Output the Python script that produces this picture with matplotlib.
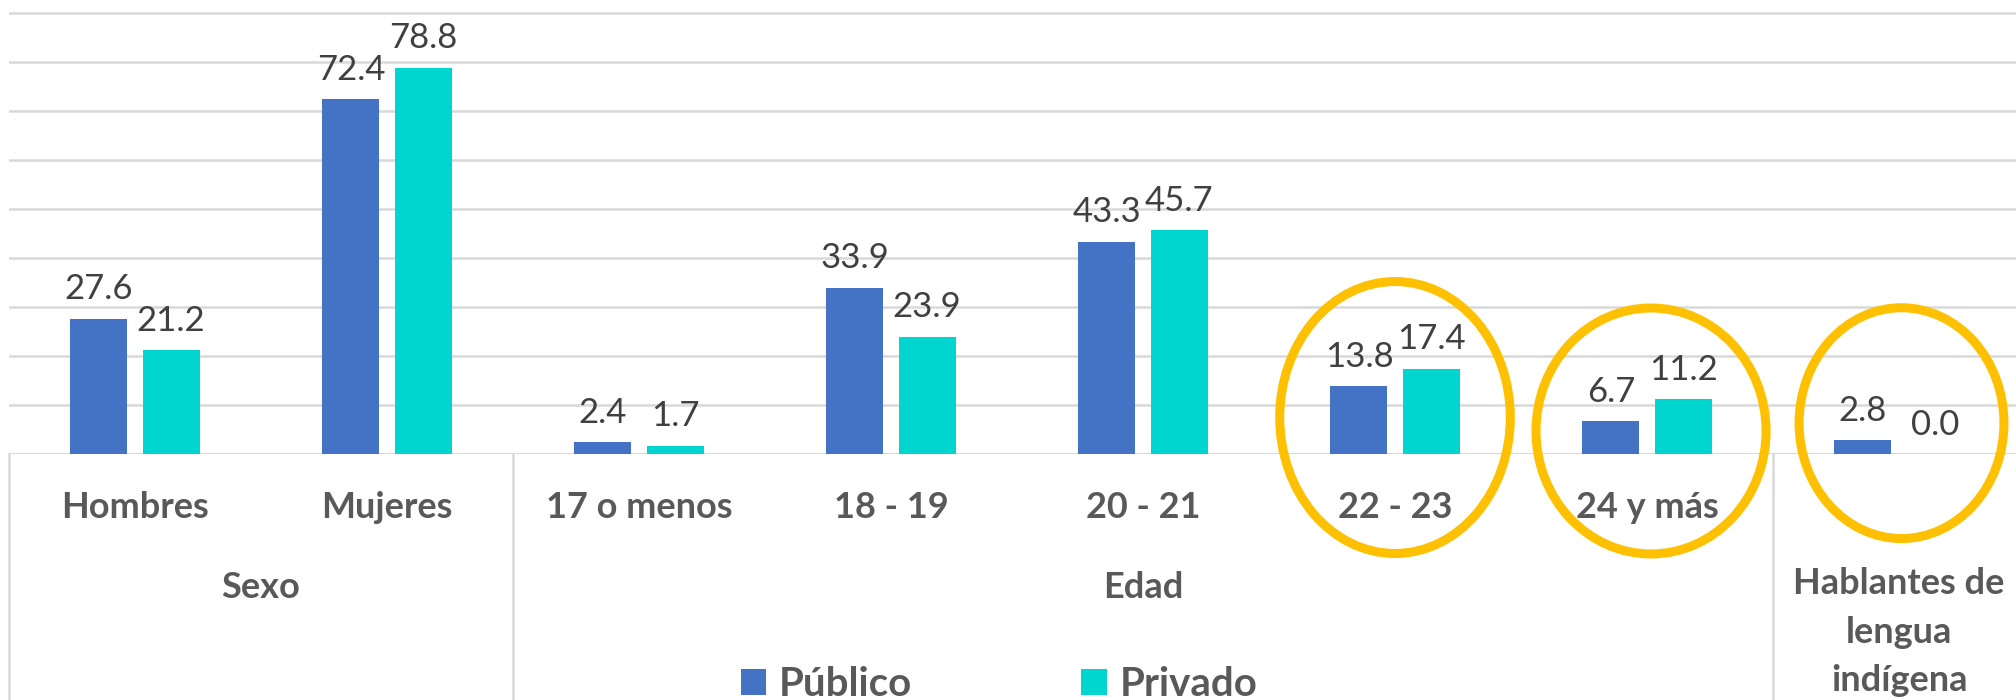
import matplotlib.pyplot as plt
import numpy as np
from matplotlib.patches import Ellipse

# data
categorias = ["Hombres", "Mujeres", "17 o menos", "18 - 19", "20 - 21",
              "22 - 23", "24 y más", ""]
grupos = ["Sexo", "Edad", "Hablantes de\nlengua\nindígena"]
publico = [27.6, 72.4, 2.4, 33.9, 43.3, 13.8, 6.7, 2.8]
privado = [21.2, 78.8, 1.7, 23.9, 45.7, 17.4, 11.2, 0.0]

AZUL = "#4472C4"
CIAN = "#00D6CF"
GRIS = "#595959"
LINEA = "#D9D9D9"

plt.rcParams["font.family"] = ["Lato", "DejaVu Sans"]

fig = plt.figure(figsize=(20.16, 7), dpi=100)
# axes wider than the figure: the right side is cropped like the original
ax = fig.add_axes([9 / 2016, 246 / 700, 1.0, 92 * 4.9 / 700])

x = np.arange(len(publico))
ancho = 0.226
off = 0.143
b1 = ax.bar(x - off, publico, ancho, color=AZUL, label="Público", zorder=3)
b2 = ax.bar(x + off, privado, ancho, color=CIAN, label="Privado", zorder=3)

for barras in (b1, b2):
    for r in barras:
        v = r.get_height()
        ax.annotate(f"{v:.1f}", (r.get_x() + r.get_width() / 2, v),
                    xytext=(0, 14), textcoords="offset points",
                    ha="center", va="baseline", fontsize=25, color="#404040")

ax.set_xlim(-0.5, 7.5)
ax.set_ylim(0, 92)
ax.set_yticks(np.arange(10, 100, 10))
ax.yaxis.grid(True, color=LINEA, lw=1.8, zorder=0)
ax.set_xticks([])
ax.tick_params(left=False, labelleft=False)
for s in ax.spines.values():
    s.set_visible(False)
ax.axhline(0, color=LINEA, lw=2.2, zorder=2)

# category axis box below the bars
for xs in (-0.5, 1.5, 6.5):
    ax.plot([xs, xs], [0, -52], color=LINEA, lw=1.8, clip_on=False)

kw = dict(fontsize=26, fontweight="bold", color=GRIS, clip_on=False)
for i, c in enumerate(categorias):
    if c:
        ax.text(i, -13.1, c, ha="center", va="baseline", **kw)

ax.text(0.5, -29.4, grupos[0], ha="center", va="baseline", **kw)
ax.text(4.0, -29.4, grupos[1], ha="center", va="baseline", **kw)
for k, linea in enumerate(grupos[2].split("\n")):
    ax.text(7.0, -28.6 - 9.9 * k, linea, ha="center", va="baseline", **kw)

# highlight circles
for cx, cy, w, h in [(5.0, 7.45, 0.915, 55.5), (6.016, 4.7, 0.913, 50.2),
                     (7.01, 6.3, 0.813, 47.1)]:
    ax.add_patch(Ellipse((cx, cy), w, h, fill=False, ec="#FFC000", lw=6.5,
                         clip_on=False, zorder=5))

leg = fig.legend(handles=[b1, b2], loc="center", ncol=2,
                 bbox_to_anchor=(0.4955, 0.022), frameon=False,
                 prop={"size": 29, "weight": "bold"},
                 handlelength=0.64, handleheight=0.64, handletextpad=0.31,
                 columnspacing=4.2)
for t in leg.get_texts():
    t.set_color(GRIS)

fig.savefig("out.png", dpi=100)
